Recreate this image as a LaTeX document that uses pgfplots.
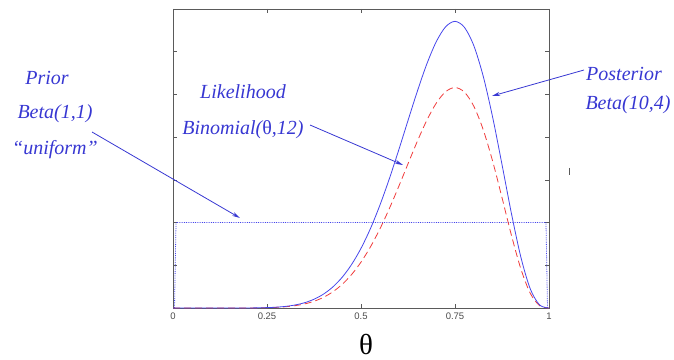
\documentclass[border=0pt]{standalone}
\usepackage{pgfplots}
\pgfplotsset{compat=1.18}
\usepackage{fontspec}
\setmainfont{Liberation Serif}
\newfontfamily\annfont{Liberation Serif}
\newfontfamily\ticksans{Liberation Sans}
\usetikzlibrary{arrows.meta}
\definecolor{annblue}{RGB}{55,55,210}
\definecolor{postblue}{RGB}{70,70,235}
\definecolor{likred}{RGB}{240,60,60}
\definecolor{axgray}{RGB}{90,90,90}
\begin{document}
\begin{tikzpicture}[x=1pt,y=1pt]
\useasboundingbox (0,0) rectangle (674,359);
\begin{axis}[
  at={(173pt,51pt)}, anchor=south west,
  scale only axis, width=376pt, height=299pt,
  xmin=0, xmax=1, ymin=0, ymax=3.5,
  xtick={0,0.25,0.5,0.75,1},
  xticklabels={0,0.25,0.5,0.75,1},
  ytick={0,0.5,1,1.5,2,2.5,3,3.5},
  yticklabels={},
  tick align=inside,
  major tick length=4pt,
  axis line style={axgray, line width=0.9pt},
  every tick/.style={axgray, line width=0.7pt},
  xticklabel style={font=\ticksans\fontsize{9.5}{10}\selectfont, text=black!70, yshift=-1pt},
  clip=false,
]
% Prior Beta(1,1)
\addplot[postblue, densely dotted, line width=0.8pt] coordinates {
 (0.004,0) (0.008,1) (0.992,1) (0.996,0)
};
% Likelihood (scaled)
\addplot[likred, smooth, dash pattern=on 7pt off 4pt, line width=0.8pt] coordinates {
 (0,0) (0.2,0.0006) (0.25,0.0035) (0.275,0.0075) (0.3,0.0149) (0.325,0.0274)
 (0.35,0.0476) (0.375,0.0788) (0.4,0.1246) (0.425,0.1892) (0.45,0.2770)
 (0.475,0.3919) (0.5,0.5371) (0.525,0.7144) (0.55,0.9233) (0.575,1.1604)
 (0.6,1.4189) (0.625,1.6883) (0.65,1.9536) (0.675,2.1969) (0.7,2.3970)
 (0.725,2.5320) (0.75,2.5810) (0.775,2.5275) (0.8,2.3622) (0.825,2.0874)
 (0.85,1.7198) (0.875,1.2919) (0.9,0.8523) (0.925,0.4601) (0.95,0.1733)
 (0.975,0.0274) (1,0)
};
% Posterior Beta(10,4)
\addplot[postblue, smooth, line width=0.8pt] coordinates {
 (0,0) (0.2,0.0008) (0.25,0.0046) (0.275,0.0098) (0.3,0.0193) (0.325,0.0356)
 (0.35,0.0619) (0.375,0.1024) (0.4,0.1619) (0.425,0.2460) (0.45,0.3601)
 (0.475,0.5095) (0.5,0.6982) (0.525,0.9287) (0.55,1.2003) (0.575,1.5085)
 (0.6,1.8446) (0.625,2.1947) (0.65,2.5397) (0.675,2.8559) (0.7,3.1161)
 (0.725,3.2917) (0.75,3.3554) (0.775,3.2857) (0.8,3.0709) (0.825,2.7136)
 (0.85,2.2357) (0.875,1.6794) (0.9,1.1080) (0.925,0.5982) (0.95,0.2253)
 (0.975,0.0356) (1,0)
};
\end{axis}
% x label
\node[anchor=base, inner sep=0pt] at (366,5) {\annfont\fontsize{29}{29}\selectfont θ};
% annotations
\begin{scope}[every node/.style={text=annblue, font=\annfont\itshape\fontsize{20}{20}\selectfont}]
\node at (47,281) {Prior};
\node at (55,245) {Beta(1,1)};
\node at (55,209) {“uniform”};
\node at (243,267) {Likelihood};
\node at (243,229) {Binomial({\upshape θ},12)};
\node at (624,285) {Posterior};
\node at (628,254) {Beta(10,4)};
\end{scope}
\begin{scope}[annblue, line width=0.8pt, -{Stealth[length=8pt,width=4pt]}]
\draw (92,227) -- (240,141);
\draw (310,234) -- (403,194);
\draw (584,289) -- (492,263);
\end{scope}
\draw[axgray, line width=0.6pt] (569,191) -- (569,184);
\end{tikzpicture}
\end{document}
